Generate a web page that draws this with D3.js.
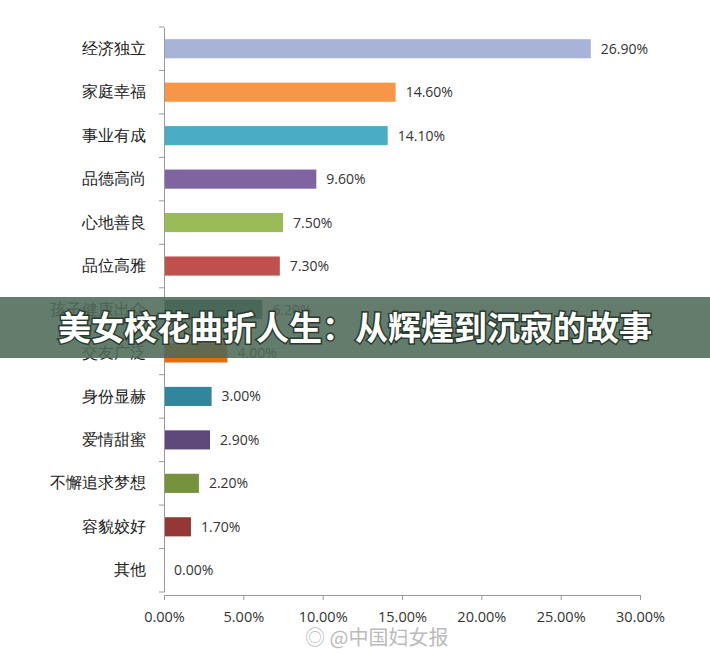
<!DOCTYPE html>
<html><head><meta charset="utf-8">
<script src="https://cdn.jsdelivr.net/npm/d3@7"></script>
<style>body{margin:0;background:#fff;font-family:"Noto Sans CJK SC","Noto Sans",sans-serif;}</style>
</head><body>
<div id="chart"></div>
<script>
// data
var categories = ["经济独立","家庭幸福","事业有成","品德高尚","心地善良","品位高雅","孩子健康出众","交友广泛","身份显赫","爱情甜蜜","不懈追求梦想","容貌姣好","其他"];
var values = [26.9,14.6,14.1,9.6,7.5,7.3,6.2,4.0,3.0,2.9,2.2,1.7,0.0];
var colors = ["#a7b4d8","#f79646","#4bacc6","#8064a2","#9bbb59","#c0504d","#215868","#e46c0a","#31859c","#5f497a","#76923c","#953735","#777"];
var xTicks = [0,5,10,15,20,25,30];

var W = 710, H = 655;
var svg = d3.select("#chart").append("svg").attr("width", W).attr("height", H);

var x = d3.scaleLinear().domain([0,30]).range([164, 640]);
var y = d3.scaleBand().domain(categories).range([27, 592]).paddingInner(0.56).paddingOuter(0.28);

// bars
svg.selectAll("rect.bar").data(values).enter().append("rect")
    .attr("x", x(0))
    .attr("y", (d,i) => y(categories[i]))
    .attr("width", d => x(d) - x(0))
    .attr("height", y.bandwidth())
    .attr("fill", (d,i) => colors[i]);

// value labels
svg.selectAll("text.val").data(values).enter().append("text")
    .attr("x", d => x(d) + 10)
    .attr("y", (d,i) => y(categories[i]) + y.bandwidth()/2 + 5)
    .style("font-size", "14px").style("font-family", "'Open Sans',sans-serif").attr("fill", "#333")
    .text(d => d.toFixed(2) + "%");

// y axis
var yAxis = svg.append("g").attr("transform", "translate(" + x(0) + ",0)")
    .call(d3.axisLeft(y).tickSize(0).tickPadding(18));
yAxis.select(".domain").attr("stroke", "#999");
yAxis.selectAll("text").style("font-size", "16px").attr("fill", "#222");
// small tick marks between categories
var step = y.step();
svg.selectAll("line.yt").data(d3.range(categories.length + 1)).enter().append("line")
    .attr("x1", x(0) - 5).attr("x2", x(0))
    .attr("y1", i => 27 + i * step)
    .attr("y2", i => 27 + i * step)
    .attr("stroke", "#999");

// x axis
var xAxis = svg.append("g").attr("transform", "translate(0,595)")
    .call(d3.axisBottom(x).tickValues(xTicks).tickSize(5).tickPadding(12).tickFormat(d => d.toFixed(2) + "%"));
xAxis.selectAll("line, .domain").attr("stroke", "#999");
xAxis.selectAll("text").style("font-size", "14.5px").style("font-family", "'Open Sans',sans-serif").attr("fill", "#333");

// watermark
svg.append("text").attr("x", 305).attr("y", 645).style("font-size", "20px").attr("fill", "#bbb")
    .text("◎ @中国妇女报");

// title banner
svg.append("rect").attr("x", 0).attr("y", 297).attr("width", W).attr("height", 61)
    .attr("fill", "#4f6a58").attr("opacity", 0.88);
svg.append("text").attr("x", W/2).attr("y", 340).attr("text-anchor", "middle")
    .style("font-size", "33px").style("font-weight", "bold").attr("fill", "#fff")
    .style("paint-order", "stroke").attr("stroke", "#2a3a2f").attr("stroke-width", 3)
    .text("美女校花曲折人生：从辉煌到沉寂的故事");
</script>
</body></html>
